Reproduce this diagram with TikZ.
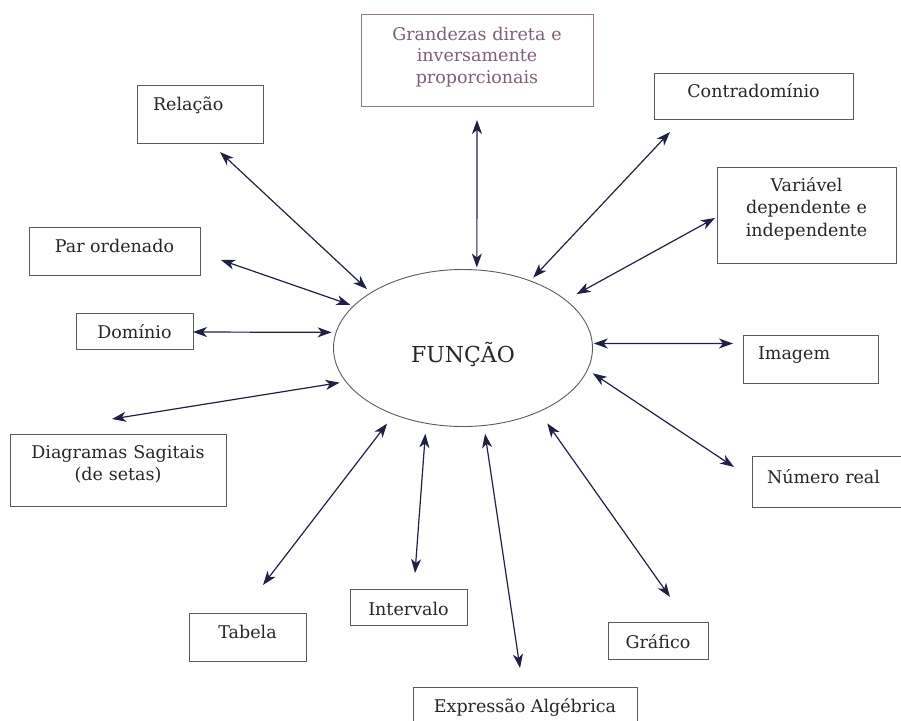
\documentclass[tikz,border=0pt]{standalone}
\usepackage{fontspec}
\setmainfont{DejaVu Serif}
\usepackage{tikz}
\usetikzlibrary{shapes,arrows.meta,positioning}
\definecolor{inkgray}{HTML}{262626}
\definecolor{framegray}{HTML}{5A5A5A}
\definecolor{mauve}{HTML}{7D5F78}
\definecolor{navy}{HTML}{1F2142}
\tikzset{>={Stealth[length=14pt,width=10pt,inset=4pt]}}
\tikzset{box/.style={draw=framegray,line width=0.8pt,text=inkgray,inner sep=0pt,align=center,font=\fontsize{17.5}{22}\selectfont},
         main node/.style={ellipse,draw=framegray,line width=0.9pt,text=inkgray,inner sep=0pt,minimum width=259pt,minimum height=157pt,font=\fontsize{22}{25}\selectfont},
         link/.style={draw=navy,line width=1.2pt,<->}
            }
\begin{document}
\begin{tikzpicture}[x=1pt,y=-1pt]

    \clip (0,0) rectangle (901,720);

    \node[main node,text height=30pt,text depth=2pt] (fn) at (463,348) {FUNÇÃO};

    \node[box,draw=mauve!85,text=mauve,minimum width=232pt,text width=200pt,text height=26pt,text depth=66pt,font=\fontsize{17.5}{21.5}\selectfont] (gra) at (477,60) {Grandezas direta e\\inversamente\\proporcionais};
    \node[box,minimum width=126pt,text width=94pt,align=left,text height=25pt,text depth=33pt] (rel) at (200,114) {Relação};
    \node[box,minimum width=199pt,text height=24pt,text depth=22pt] (con) at (753.5,96) {Contradomínio};
    \node[box,minimum width=179pt,text width=160pt,text height=24pt,text depth=72pt,font=\fontsize{17.5}{22.5}\selectfont] (var) at (806.5,215) {Variável\\dependente e\\independente};
    \node[box,minimum width=171pt,text height=25pt,text depth=23pt] (par) at (114.5,251) {Par ordenado};
    \node[box,minimum width=117pt,text height=25pt,text depth=11pt] (dom) at (134.5,331) {Domínio};
    \node[box,minimum width=135pt,text width=105pt,align=left,text height=24pt,text depth=24pt] (img) at (810.5,359) {Imagem};
    \node[box,minimum width=153pt,text width=123pt,align=left,text height=27pt,text depth=24pt] (num) at (828.5,481.5) {Número real};
    \node[box,minimum width=216pt,text width=200pt,text height=24pt,text depth=48pt] (dia) at (118,470) {Diagramas Sagitais\\(de setas)};
    \node[box,minimum width=117pt,text height=25pt,text depth=23pt] (tab) at (247.5,637) {Tabela};
    \node[box,minimum width=117pt,text height=26pt,text depth=10pt] (int) at (408.5,607) {Intervalo};
    \node[box,minimum width=100pt,text height=26pt,text depth=11pt] (graf) at (658,640.5) {Gráfico};
    \node[box,minimum width=224pt,text height=25pt,text depth=23pt] (exp) at (525,711) {Expressão Algébrica};

    \coordinate (rel-a) at (220,152);
    \coordinate (par-a) at (221,260);
    \coordinate (dom-a) at (193,332);
    \coordinate (gra-a) at (477,120);
    \coordinate (con-a) at (670,132);
    \coordinate (var-a) at (715,218);
    \coordinate (img-a) at (733,343.5);
    \coordinate (num-a) at (734,467);
    \coordinate (dia-a) at (112,419);
    \coordinate (tab-a) at (263,585);
    \coordinate (int-a) at (415,573);
    \coordinate (exp-a) at (520,668);
    \coordinate (graf-a) at (670,597);

    \path[every edge/.style={link}]
    (rel-a) edge[shorten >=5pt] (fn.149)
    (par-a) edge[shorten >=3pt] (fn.159)
    (dom-a) edge[shorten >=4pt] (fn.173)
    (gra-a) edge[shorten >=2pt] (fn.80)
    (con-a) edge[shorten >=4pt] (fn.45)
    (var-a) edge[shorten >=12pt] (fn.25)
    (img-a) edge[shorten >=1pt] (fn.2)
    (num-a) edge[shorten >=6pt] (fn.350)
    (dia-a) edge[shorten >=6pt] (fn.196)
    (tab-a) edge[shorten >=11pt] (fn.224)
    (int-a) edge[shorten >=10pt] (fn.244)
    (exp-a) edge[shorten >=8pt] (fn.285)
    (graf-a) edge[shorten >=14pt] (fn.320);

\end{tikzpicture}
\end{document}
